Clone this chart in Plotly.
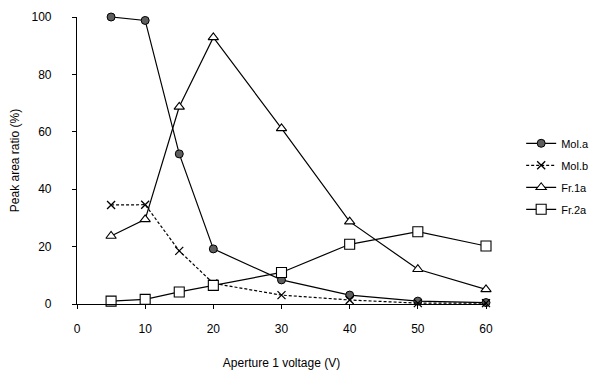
import plotly.graph_objects as go

voltage = [5, 10, 15, 20, 30, 40, 50, 60]
mol_a = [100, 98.8, 52.3, 19.2, 8.4, 3.1, 1.0, 0.5]
mol_b = [34.5, 34.6, 18.5, 7.2, 3.1, 1.4, 0.3, 0.3]
fr_1a = [23.7, 29.5, 68.7, 92.9, 61.2, 28.7, 12.1, 5.1]
fr_2a = [1.0, 1.6, 4.2, 6.5, 11.0, 20.8, 25.2, 20.2]

x_ticks = [0, 10, 20, 30, 40, 50, 60]
y_ticks = [0, 20, 40, 60, 80, 100]

fig = go.Figure()
common = dict(mode="lines+markers", cliponaxis=False)
fig.add_trace(go.Scatter(x=voltage, y=mol_a, name="Mol.a", legendgroup="a",
                         line=dict(color="black", width=1.2),
                         marker=dict(symbol="circle", size=8, color="#5e5e5e",
                                     line=dict(color="black", width=1)), **common))
fig.add_trace(go.Scatter(x=voltage, y=mol_b, name="Mol.b", legendgroup="b",
                         line=dict(color="black", width=1.2, dash="3px,2px"),
                         marker=dict(symbol="x-thin", size=8, color="black",
                                     line=dict(color="black", width=1.3)), **common))
fig.add_trace(go.Scatter(x=voltage, y=fr_1a, name="Fr.1a", legendgroup="c",
                         line=dict(color="black", width=1.2),
                         marker=dict(symbol="triangle-up", size=9, color="white",
                                     line=dict(color="black", width=1.1)), **common))
fig.add_trace(go.Scatter(x=voltage, y=fr_2a, name="Fr.2a", legendgroup="d",
                         line=dict(color="black", width=1.2),
                         marker=dict(symbol="square", size=10, color="white",
                                     line=dict(color="black", width=1.1)), **common))

fig.update_layout(
    width=589, height=364,
    margin=dict(l=69, r=111, t=9, b=68, autoexpand=False),
    paper_bgcolor="white", plot_bgcolor="white",
    font=dict(family="Liberation Sans, Arial, sans-serif", size=12, color="black"),
    showlegend=True,
    legend=dict(x=1.086, y=0.445, xanchor="left", yanchor="middle",
                font=dict(size=11), tracegroupgap=3, itemwidth=30,
                bgcolor="rgba(0,0,0,0)", borderwidth=0),
    xaxis=dict(range=[0, 60], tickvals=x_ticks, showgrid=False, zeroline=False,
               showline=True, linecolor="black", linewidth=1.2,
               ticks="outside", ticklen=4, tickcolor="black",
               ticklabelstandoff=9, automargin=False,
               title=dict(text="Aperture 1 voltage (V)", standoff=24, font=dict(size=12))),
    yaxis=dict(range=[0, 100], tickvals=y_ticks, showgrid=False, zeroline=False,
               showline=True, linecolor="black", linewidth=1.2,
               ticks="outside", ticklen=4, tickcolor="black",
               ticklabelstandoff=18, automargin=False,
               title=dict(text="Peak area ratio (%)", standoff=10, font=dict(size=12))),
)

fig.write_html("out.html")
